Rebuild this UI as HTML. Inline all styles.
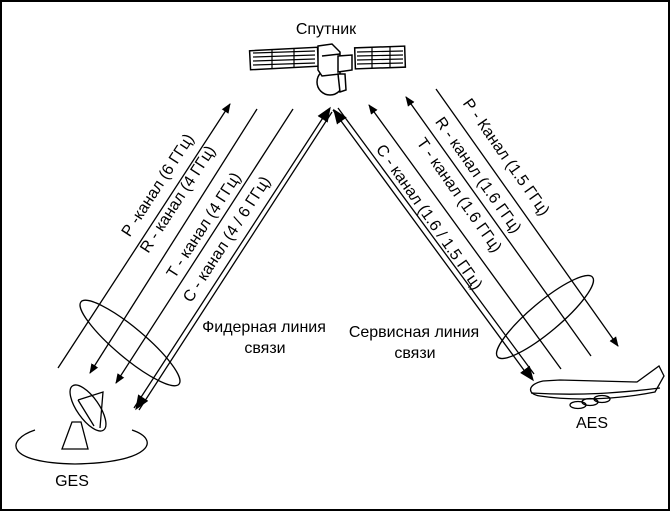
<!DOCTYPE html>
<html><head><meta charset="utf-8"><style>
html,body{margin:0;padding:0;background:#fff}
svg{display:block}
text{font-family:"Liberation Sans",Arial,sans-serif;font-size:16px;fill:#000}
</style></head><body>
<svg width="672" height="512" viewBox="0 0 672 512" xmlns="http://www.w3.org/2000/svg">
<defs>
<marker id="a" viewBox="0 0 10 10" refX="9" refY="5" markerWidth="10" markerHeight="10" markerUnits="userSpaceOnUse" orient="auto"><path d="M0,1 L10,5 L0,9 Z" fill="#000"/></marker>
<marker id="b" viewBox="0 0 10 10" refX="9" refY="5" markerWidth="15" markerHeight="15" markerUnits="userSpaceOnUse" orient="auto"><path d="M0,1 L10,5 L0,9 Z" fill="#000"/></marker>
</defs>
<rect x="1" y="1" width="668" height="509" fill="#fff" stroke="#000" stroke-width="2"/>
<text x="326" y="34" text-anchor="middle">Спутник</text>
<!-- satellite -->
<g stroke="#000" stroke-width="1.5" fill="#fff">
<rect x="250" y="49" width="68" height="19" transform="rotate(-3 284 58)"/>
<g stroke-width="1.2"><line x1="253" y1="53" x2="315" y2="51"/><line x1="253" y1="57" x2="315" y2="55"/><line x1="253" y1="61" x2="315" y2="59"/><line x1="253" y1="65" x2="315" y2="63"/>
<line x1="272" y1="49" x2="272" y2="68"/><line x1="294" y1="48" x2="294" y2="67"/></g>
<circle cx="330" cy="82" r="13"/>
<path d="M318 46 L332 44 L340 52 L340 74 L322 76 L318 70 Z"/>
<line x1="322" y1="56" x2="340" y2="54"/>
<path d="M338 56 L352 55 L352 70 L338 72 Z"/>
<path d="M338 74 L345 74 L346 90 L340 92 Z"/>
<rect x="355" y="47" width="50" height="21" transform="rotate(-2 380 57)"/>
<g stroke-width="1.2"><line x1="357" y1="52" x2="403" y2="51"/><line x1="357" y1="56" x2="403" y2="55"/><line x1="357" y1="60" x2="403" y2="59"/><line x1="357" y1="64" x2="403" y2="63"/>
<line x1="372" y1="47" x2="372" y2="68"/><line x1="390" y1="47" x2="390" y2="68"/></g>
</g>
<g stroke="#000" stroke-width="1.3" fill="none">
<line x1="58" y1="368" x2="230" y2="104" marker-end="url(#a)"/>
<line x1="257" y1="109" x2="90" y2="373" marker-end="url(#a)"/>
<line x1="293" y1="109" x2="116" y2="383" marker-end="url(#a)"/>
<line x1="134" y1="408" x2="328" y2="110"/>
<line x1="139" y1="410" x2="332" y2="112"/>
<line x1="250" y1="230" x2="136" y2="409" stroke="none" marker-end="url(#b)"/>
<line x1="250" y1="230" x2="330" y2="108" stroke="none" marker-end="url(#b)"/>
<line x1="333" y1="110" x2="529" y2="377"/>
<line x1="338" y1="108" x2="534" y2="374"/>
<line x1="420" y1="230" x2="533" y2="380" stroke="none" marker-end="url(#b)"/>
<line x1="420" y1="230" x2="334" y2="110" stroke="none" marker-end="url(#b)"/>
<line x1="561" y1="369" x2="369" y2="105" marker-end="url(#a)"/>
<line x1="591" y1="356" x2="406" y2="97" marker-end="url(#a)"/>
<line x1="436" y1="89" x2="618" y2="346" marker-end="url(#a)"/>
<ellipse cx="130" cy="343" rx="64" ry="15" transform="rotate(40 130 343)"/>
<ellipse cx="545" cy="317" rx="62" ry="15" transform="rotate(-40 545 317)"/>
<!-- GES -->
<path d="M35 430 C5 440 5 463 75 464 C150 463 162 440 132 430"/>
<ellipse cx="88" cy="408" rx="27" ry="11" transform="rotate(55 88 408)"/>
<path d="M78 400 L103 392 L100 428 M78 400 L94 426"/>
<path d="M62 449 L88 449 L81 422 L72 422 Z"/>
<!-- plane -->
<path d="M543 381 C528 384 526 394 540 396 C580 402 625 398 655 392 L664 376 L659 366 L637 382 L560 380 Z"/>
<path d="M531 393 C580 396 620 393 660 388"/>
<ellipse cx="578" cy="405" rx="8" ry="3.5"/>
<ellipse cx="590" cy="402" rx="8" ry="3.5"/>
<ellipse cx="602" cy="399" rx="8" ry="3.5"/>
</g>
<text transform="translate(162,188) rotate(-57)" text-anchor="middle">Р -канал (6 ГГц)</text>
<text transform="translate(182,202) rotate(-57)" text-anchor="middle">R - канал (4 ГГц)</text>
<text transform="translate(208,228) rotate(-57)" text-anchor="middle">Т - канал (4 ГГц)</text>
<text transform="translate(231,242) rotate(-57)" text-anchor="middle">С - канал (4 / 6 ГГц)</text>
<text transform="translate(425,220) rotate(55)" text-anchor="middle">С - канал (1.6 / 1.5 ГГц)</text>
<text transform="translate(455,198) rotate(55)" text-anchor="middle">Т - канал (1.6 ГГц)</text>
<text transform="translate(474,178) rotate(55)" text-anchor="middle">R - канал (1.6 ГГц)</text>
<text transform="translate(502,160) rotate(55)" text-anchor="middle">Р - Канал (1.5 ГГц)</text>
<text x="264" y="332" text-anchor="middle">Фидерная линия</text>
<text x="265" y="353" text-anchor="middle">связи</text>
<text x="414" y="337" text-anchor="middle">Сервисная линия</text>
<text x="415" y="358" text-anchor="middle">связи</text>
<text x="72" y="486" text-anchor="middle">GES</text>
<text x="592" y="428" text-anchor="middle">AES</text>
</svg>
</body></html>
